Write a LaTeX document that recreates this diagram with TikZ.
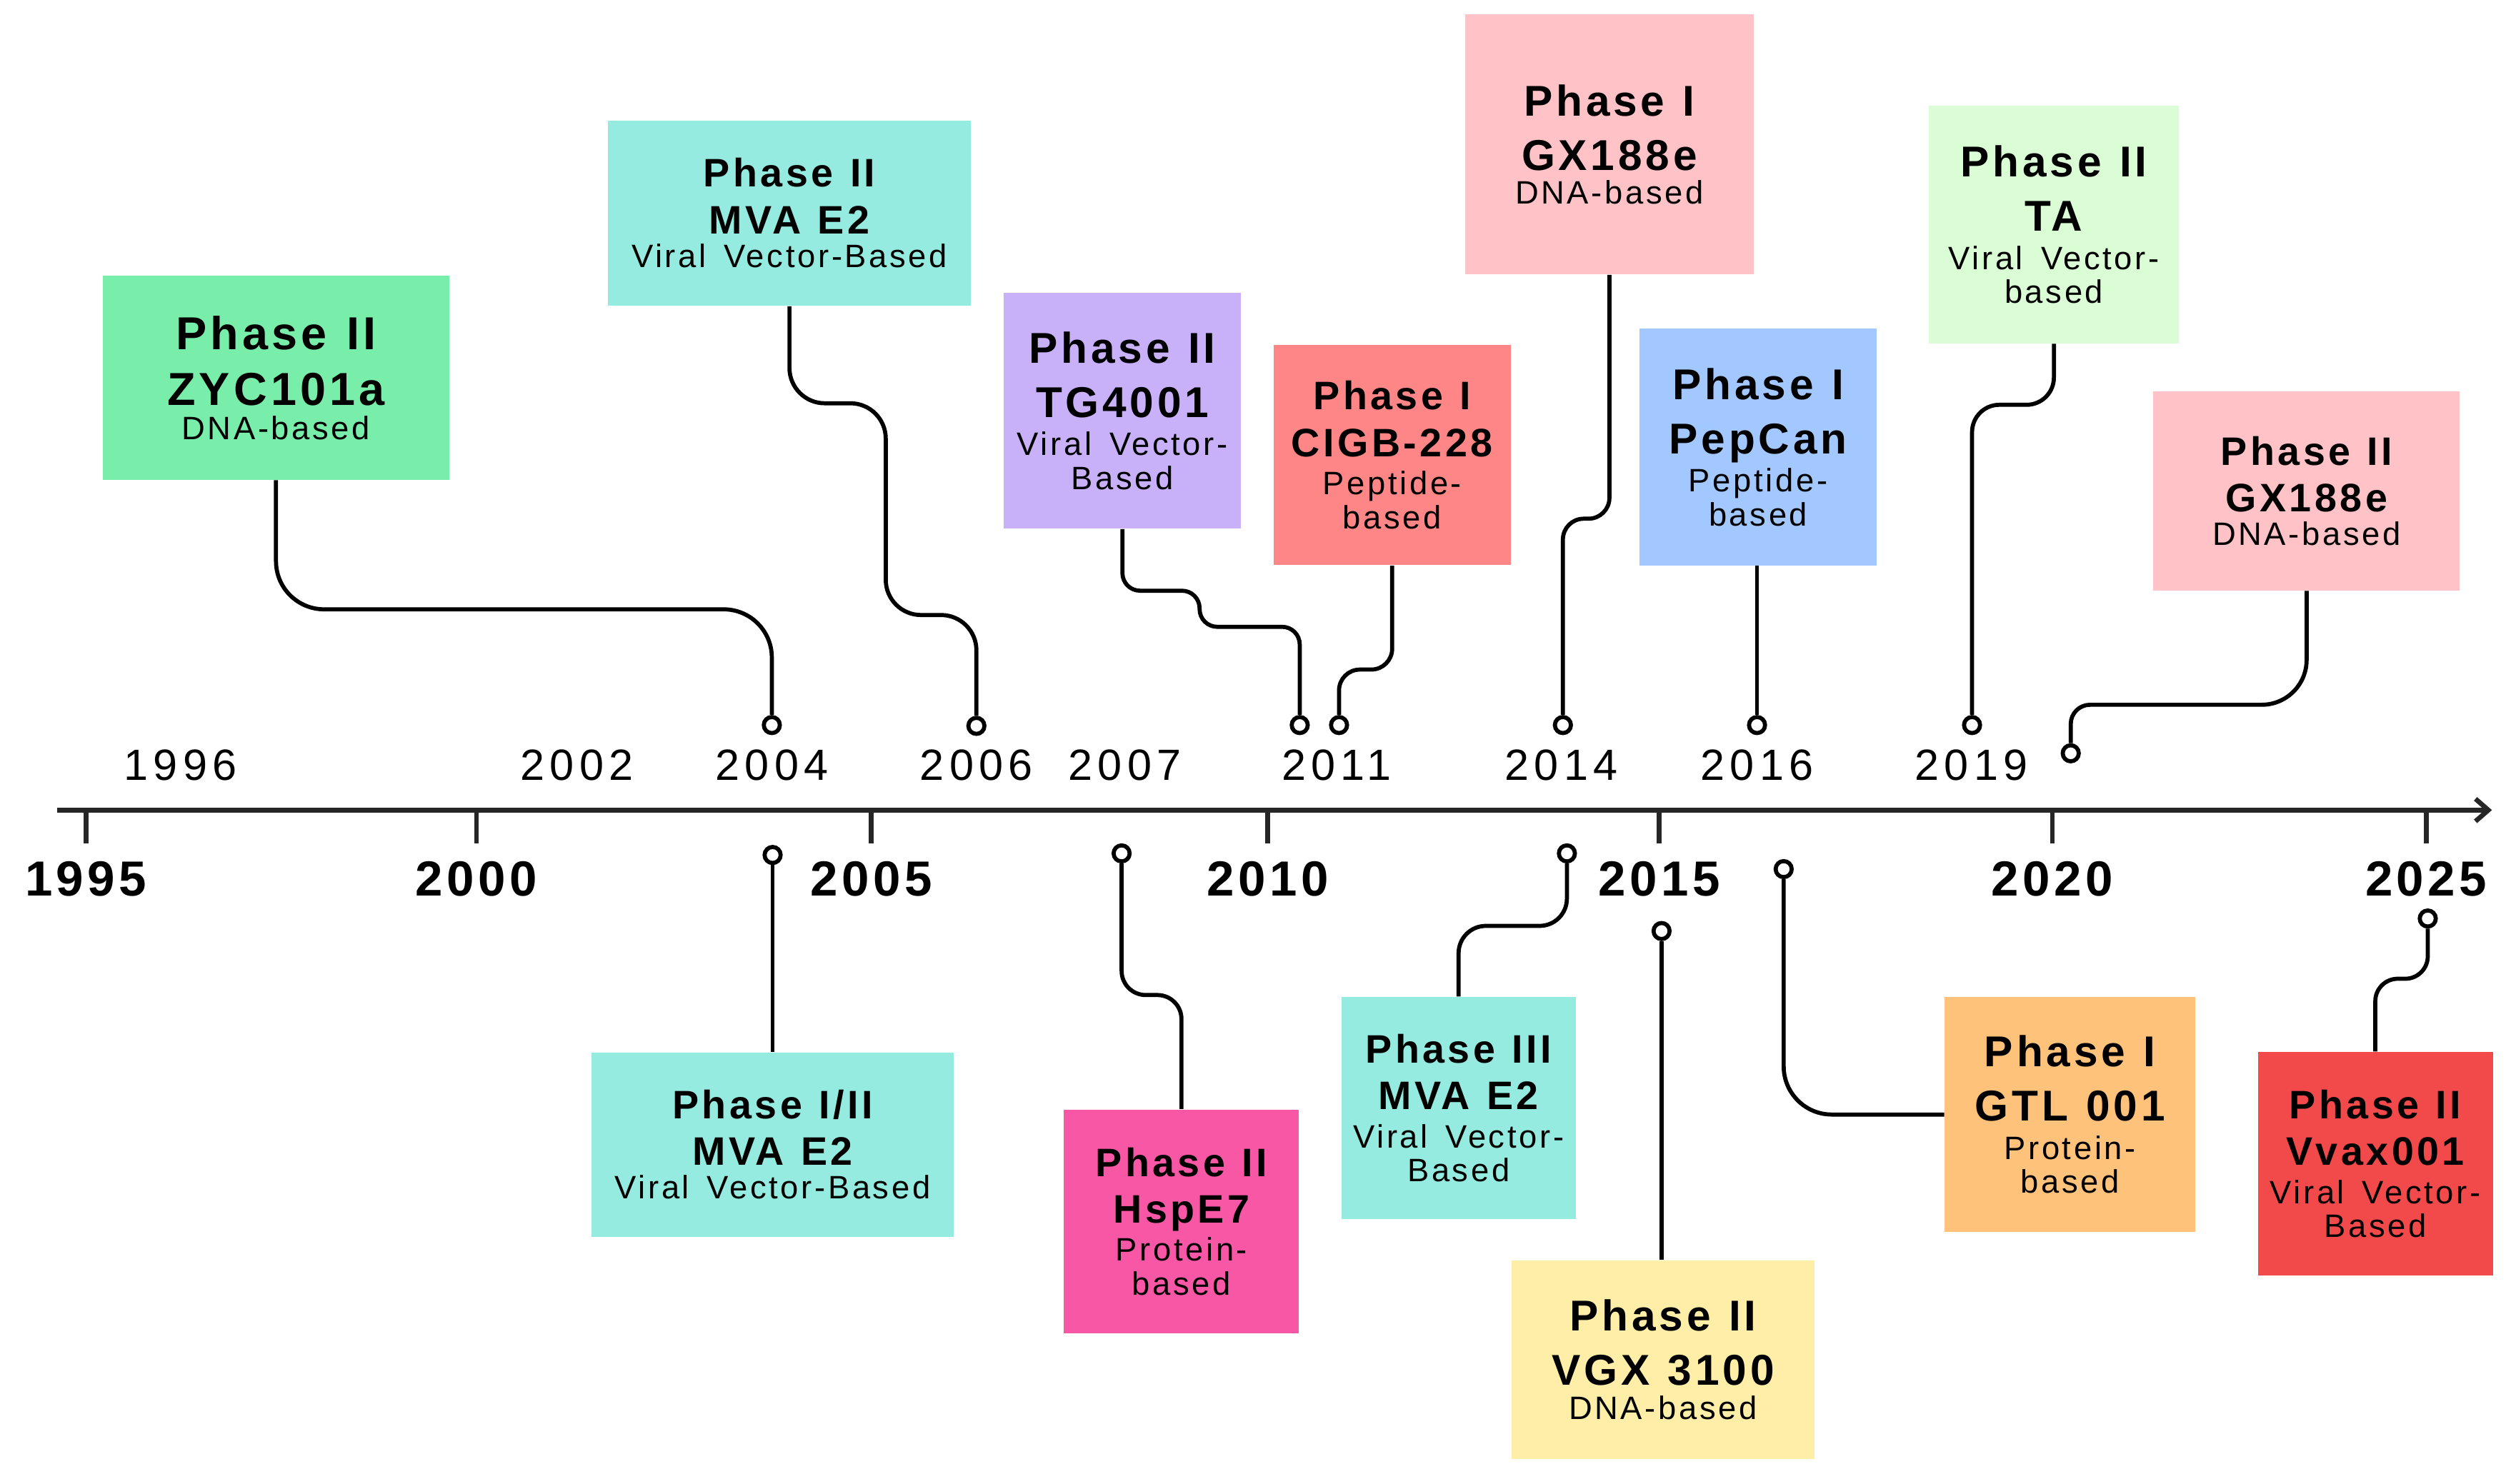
\documentclass[tikz,border=0pt]{standalone}
\usepackage{fontspec}
\setmainfont{Liberation Sans}[LetterSpace=8]
\newfontfamily\yrfamily{Liberation Sans}[LetterSpace=12]
\usetikzlibrary{arrows.meta}

\definecolor{zycgreen}{HTML}{78EEAA}
\definecolor{mvacyan}{HTML}{95EBDF}
\definecolor{tgpurple}{HTML}{C9B1F9}
\definecolor{cigbred}{HTML}{FF8686}
\definecolor{gxpink}{HTML}{FFC2C7}
\definecolor{pepblue}{HTML}{A3C8FF}
\definecolor{tagreen}{HTML}{DAFDD6}
\definecolor{hspmagenta}{HTML}{F857A6}
\definecolor{vgxyellow}{HTML}{FFEEA8}
\definecolor{gtlorange}{HTML}{FFC27B}
\definecolor{vvaxred}{HTML}{F24A4B}

% title sizes of the boxes
\newcommand{\ttlM}{\fontsize{14.1}{16.5}\selectfont\bfseries\spaceskip=0.42em\relax}
\newcommand{\ttlL}{\fontsize{15.3}{19.3}\selectfont\bfseries\spaceskip=0.42em\relax}
\newcommand{\ttlXL}{\fontsize{16.4}{19.9}\selectfont\bfseries\spaceskip=0.42em\relax}
\newcommand{\subt}{\fontsize{11.5}{13.6}\selectfont\mdseries\spaceskip=0.55em\relax}

\tikzset{
  evbox/.style n args={3}{rectangle, fill=#1, text width=#2, minimum height=#3, inner sep=0pt, align=center},
  conn/.style={line width=1.45pt, black},
  pin/.style={circle, draw=black, fill=white, line width=1.45pt, minimum size=2mm, inner sep=0pt},
  axisline/.style={line width=1.7pt, black!85},
  yrlabel/.style={font=\yrfamily\fontsize{15.5}{18}\selectfont, inner sep=0pt},
  decade/.style={font=\fontsize{17.5}{20}\selectfont\bfseries, inner sep=0pt}
}

\begin{document}
\begin{tikzpicture}[x=0.2mm, y=-0.2mm]
\useasboundingbox (0,0) rectangle (1568,925);

% time axis
\coordinate (ax0) at (35.7,505);
\coordinate (ax1) at (1553,505);
\draw[axisline, -{Straight Barb[length=1.6mm, width=2.8mm]}] (ax0) -- (ax1);
\foreach \yr/\xx in {1995/53.5, 2000/297, 2005/543, 2010/790, 2015/1034, 2020/1279, 2025/1512} {
  \draw[axisline] (\xx,505) -- (\xx,526);
  \node[decade] (d\yr) at (\xx,548) {\yr};
}
\foreach \yr/\xx in {1996/112.5, 2002/359.5, 2004/481, 2006/608.5, 2007/701, 2011/833, 2014/973, 2016/1095, 2019/1228.6}
  \node[yrlabel] (y\yr) at (\xx,477) {\yr};

% boxes above the axis
\node[evbox={zycgreen}{43.2mm}{25.4mm}] (zyc) at (172,235.5) {\ttlXL Phase II\\ ZYC101a\\ \subt DNA-based};
\node[evbox={mvacyan}{45.2mm}{23.1mm}] (mvaB) at (492,132.8) {\ttlM Phase II\\ MVA E2\\ \subt Viral Vector-Based};
\node[evbox={tgpurple}{29.6mm}{29.4mm}] (tg) at (699.5,256) {\ttlL Phase II\\ TG4001\\ \subt Viral Vector-\\ Based};
\node[evbox={cigbred}{29.6mm}{27.5mm}] (cigb) at (867.6,283.6) {\ttlM Phase I\\ CIGB-228\\ \subt Peptide-\\ based};
\node[evbox={gxpink}{36mm}{32.4mm}] (gxA) at (1003,90) {\ttlL Phase I\\ GX188e\\ \subt DNA-based};
\node[evbox={pepblue}{29.6mm}{29.5mm}] (pep) at (1095.7,278.7) {\ttlL Phase I\\ PepCan\\ \subt Peptide-\\ based};
\node[evbox={tagreen}{31.1mm}{29.6mm}] (ta) at (1280,140) {\ttlL Phase II\\ TA\\ \subt Viral Vector-\\ based};
\node[evbox={gxpink}{38.2mm}{24.8mm}] (gxB) at (1437.5,306) {\ttlM Phase II\\ GX188e\\ \subt DNA-based};

% boxes below the axis
\node[evbox={mvacyan}{45.1mm}{23mm}] (mvaA) at (481.5,713.5) {\ttlM Phase I/II\\ MVA E2\\ \subt Viral Vector-Based};
\node[evbox={hspmagenta}{29.3mm}{27.9mm}] (hsp) at (736.3,761.4) {\ttlM Phase II\\ HspE7\\ \subt Protein-\\ based};
\node[evbox={mvacyan}{29.2mm}{27.7mm}] (mvaC) at (909,690.8) {\ttlM Phase III\\ MVA E2\\ \subt Viral Vector-\\ Based};
\node[evbox={vgxyellow}{37.8mm}{24.8mm}] (vgx) at (1036.4,847.6) {\ttlL Phase II\\ VGX 3100\\ \subt DNA-based};
\node[evbox={gtlorange}{31.2mm}{29.3mm}] (gtl) at (1290,694.8) {\ttlL Phase I\\ GTL 001\\ \subt Protein-\\ based};
\node[evbox={vvaxred}{29.3mm}{27.8mm}] (vvax) at (1480.3,725.4) {\ttlM Phase II\\ Vvax001\\ \subt Viral Vector-\\ Based};

% pins on the axis
\node[pin] (p04t) at (481,452) {};
\node[pin] (p06) at (608.5,452.5) {};
\node[pin] (p11a) at (810,452) {};
\node[pin] (p11b) at (834.5,452) {};
\node[pin] (p14) at (974,452) {};
\node[pin] (p16) at (1095,452) {};
\node[pin] (p19) at (1229,452) {};
\node[pin] (p20) at (1290.5,469.6) {};
\node[pin] (p04b) at (481.5,533) {};
\node[pin] (p07) at (699,532) {};
\node[pin] (p14b) at (976.5,532) {};
\node[pin] (p15) at (1035.5,580.4) {};
\node[pin] (p16b) at (1111.6,541.8) {};
\node[pin] (p25) at (1513,572.6) {};

% connectors
\draw[conn, rounded corners=6mm] (zyc.south) -- ++(0,80.5) -| (p04t);
\draw[conn, rounded corners=4.4mm] (mvaB.south) -- ++(0,60.5) -| ++(60,132) -| (p06);
\draw[conn, rounded corners=2.2mm] (tg.south) -- ++(0,38.4) -| ++(48.1,22.5) -| (p11a);
\draw[conn, rounded corners=2.6mm] (cigb.south) -- ++(0,64.7) -| (p11b);
\draw[conn, rounded corners=2.6mm] (gxA.south) -- ++(0,152) -| (p14);
\draw[conn] (p16 |- pep.south) -- (p16);
\draw[conn, rounded corners=3.4mm] (ta.south) -- ++(0,38) -| (p19);
\draw[conn, rounded corners=5.6mm] (gxB.south) -- ++(0,71) -- ++(-100,0) [rounded corners=2.4mm] -| (p20);
\draw[conn] (p04b) -- (p04b |- mvaA.north);
\draw[conn, rounded corners=3mm] (hsp.north) -- ++(0,-71) -| (p07);
\draw[conn, rounded corners=3.4mm] (mvaC.north) -- ++(0,-44) -| (p14b);
\draw[conn] (p15) -- (p15 |- vgx.north);
\draw[conn, rounded corners=6mm] (gtl.west) -| (p16b);
\draw[conn, rounded corners=2.8mm] (vvax.north) -- ++(0,-45.4) -| (p25);
\end{tikzpicture}
\end{document}
